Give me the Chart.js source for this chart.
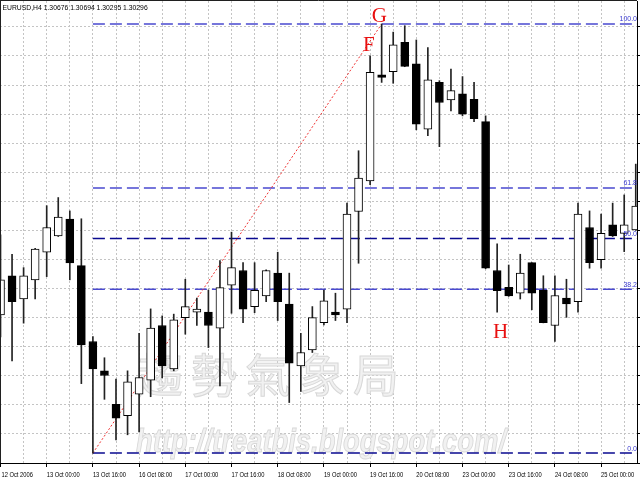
<!DOCTYPE html>
<html lang="en">
<head>
<meta charset="UTF-8">
<title>EURUSD,H4</title>
<script src="https://cdn.jsdelivr.net/npm/chart.js"></script>
<style>
  html, body { margin: 0; padding: 0; background: #fff; }
  canvas { display: block; }
</style>
</head>
<body>
<canvas id="fxChart" width="640" height="480"></canvas>
<script>
// EURUSD H4 bars, 12 Oct 2006 08:00 .. 25 Oct 2006 12:00 (bar index 0..55)
var openP = [1.25309, 1.25444, 1.25364, 1.25430, 1.25525, 1.25581, 1.25639, 1.25479,
             1.25218, 1.25117, 1.25002, 1.24963, 1.25037, 1.25085, 1.25273, 1.25124,
             1.25300, 1.25319, 1.25319, 1.25264, 1.25412, 1.25462, 1.25338, 1.25375,
             1.25453, 1.25347, 1.25134, 1.25189, 1.25283, 1.25319, 1.25329, 1.25665,
             1.25770, 1.26135, 1.26146, 1.26247, 1.26173, 1.25948, 1.26109, 1.26049,
             1.26070, 1.26051, 1.25974, 1.25462, 1.25404, 1.25384, 1.25489, 1.25395,
             1.25273, 1.25367, 1.25355, 1.25610, 1.25499, 1.25619, 1.25590, 1.25602];
var highP = [1.25585, 1.25518, 1.25472, 1.25538, 1.25685, 1.25713, 1.25667, 1.25640,
             1.25235, 1.25162, 1.25089, 1.25117, 1.25246, 1.25330, 1.25306, 1.25312,
             1.25432, 1.25367, 1.25395, 1.25496, 1.25594, 1.25489, 1.25489, 1.25464,
             1.25525, 1.25453, 1.25246, 1.25338, 1.25395, 1.25384, 1.25694, 1.25874,
             1.26200, 1.26310, 1.26282, 1.26304, 1.26255, 1.26229, 1.26115, 1.26155,
             1.26129, 1.26109, 1.25994, 1.25554, 1.25481, 1.25518, 1.25489, 1.25444,
             1.25444, 1.25432, 1.25694, 1.25667, 1.25656, 1.25694, 1.25722, 1.25828];
var lowP = [1.25234, 1.25151, 1.25281, 1.25364, 1.25441, 1.25579, 1.25430, 1.25073,
            1.24834, 1.25019, 1.24879, 1.24897, 1.24907, 1.25028, 1.25093, 1.25117,
            1.25243, 1.25273, 1.25197, 1.25065, 1.25315, 1.25283, 1.25317, 1.25355,
            1.25290, 1.25008, 1.25046, 1.25180, 1.25275, 1.25290, 1.25283, 1.25487,
            1.25757, 1.26109, 1.26106, 1.26163, 1.25946, 1.25926, 1.25888, 1.26011,
            1.25994, 1.25974, 1.25468, 1.25319, 1.25373, 1.25364, 1.25327, 1.25282,
            1.25218, 1.25301, 1.25319, 1.25470, 1.25470, 1.25579, 1.25527, 1.25600];
var closeP = [1.25430, 1.25355, 1.25444, 1.25536, 1.25610, 1.25646, 1.25488, 1.25206,
              1.25124, 1.25101, 1.24954, 1.25079, 1.25094, 1.25264, 1.25134, 1.25292,
              1.25338, 1.25329, 1.25273, 1.25403, 1.25472, 1.25329, 1.25394, 1.25462,
              1.25355, 1.25143, 1.25180, 1.25300, 1.25358, 1.25309, 1.25656, 1.25780,
              1.26144, 1.26126, 1.26238, 1.26164, 1.25965, 1.26118, 1.26040, 1.26081,
              1.26000, 1.25984, 1.25470, 1.25393, 1.25375, 1.25453, 1.25384, 1.25283,
              1.25376, 1.25347, 1.25656, 1.25489, 1.25590, 1.25581, 1.25619, 1.25684];

// time axis labels and the bar they sit on
var tickBars = [0, 4, 8, 12, 16, 20, 24, 28, 32, 36, 40, 44, 48, 52];
var tickLabels = ['12 Oct 2006', '13 Oct 00:00', '13 Oct 16:00', '16 Oct 08:00', '17 Oct 00:00',
                  '17 Oct 16:00', '18 Oct 08:00', '19 Oct 00:00', '19 Oct 16:00', '20 Oct 08:00',
                  '23 Oct 00:00', '23 Oct 16:00', '24 Oct 08:00', '25 Oct 00:00'];

// fibonacci retracement drawn from the swing low bar to the swing high bar
var fibLevels = [0, 38.2, 50, 61.8, 100];
var fibNames = ['0.0', '38.2', '50.0', '61.8', '100.0'];
var swingLowBar = 8;
var swingHighBar = 33;

var headerText = 'EURUSD,H4 1.30676 1.30694 1.30295 1.30296';
var markText = ['F', 'G', 'H'];
var markBar = [31.9, 32.8, 43.3];
var markPrice = [1.26236, 1.26336, 1.25249];
var watermarkCn = '趨勢氣象局';
var watermarkUrl = 'http://treatbis.blogspot.com/';

var fibLow = lowP[swingLowBar];
var fibHigh = highP[swingHighBar];

var bodyData = [], wickData = [];
for (var i = 0; i < openP.length; i++) {
    bodyData.push({ x: i, y: [openP[i], closeP[i]] });
    wickData.push({ x: i, y: [lowP[i], highP[i]] });
}

var datasets = [
    {
        type: 'bar', label: 'body', data: bodyData, grouped: false, barThickness: 8,
        backgroundColor: function (c) { return closeP[c.dataIndex] >= openP[c.dataIndex] ? '#ffffff' : '#000000'; },
        borderColor: '#000000', borderWidth: 1, borderSkipped: false
    },
    {
        type: 'bar', label: 'wick', data: wickData, grouped: false, barThickness: 1,
        backgroundColor: '#222222', borderWidth: 0
    },
    {
        type: 'line', label: 'trend', data: [{ x: swingLowBar, y: fibLow }, { x: swingHighBar, y: fibHigh }],
        borderColor: '#ee3333', borderWidth: 1, borderDash: [2, 2], pointRadius: 0
    }
];
fibLevels.forEach(function (lv, j) {
    var p = fibLow + (fibHigh - fibLow) * lv / 100;
    datasets.push({
        type: 'line', label: fibNames[j], data: [{ x: swingLowBar, y: p }, { x: 56, y: p }],
        borderColor: (lv === 0 || lv === 50) ? '#0a0a90' : '#4a4ad0',
        borderWidth: 1.5, borderDash: [12, 5], pointRadius: 0
    });
});

var decor = {
    id: 'decor',
    beforeDatasetsDraw: function (chart) {
        var ctx = chart.ctx, a = chart.chartArea;
        ctx.save();
        ctx.beginPath();
        ctx.rect(a.left, a.top, a.right - a.left, a.bottom - a.top);
        ctx.clip();
        // faint watermark
        ctx.font = '46px "Noto Sans CJK TC"';
        ctx.textAlign = 'center';
        ctx.textBaseline = 'middle';
        ctx.fillStyle = '#f1f1f1';
        ctx.strokeStyle = '#d8d8d8';
        ctx.lineWidth = 1;
        for (var i = 0; i < watermarkCn.length; i++) {
            var cx = 160 + i * 54;
            ctx.fillText(watermarkCn[i], cx, 375);
            ctx.strokeText(watermarkCn[i], cx, 375);
        }
        ctx.font = 'italic bold 34px "Liberation Sans", Arial, sans-serif';
        ctx.textAlign = 'left';
        ctx.textBaseline = 'alphabetic';
        var w = ctx.measureText(watermarkUrl).width;
        ctx.translate(136, 452);
        ctx.scale(370 / w, 1);
        ctx.fillText(watermarkUrl, 0, 0);
        ctx.strokeText(watermarkUrl, 0, 0);
        ctx.restore();
    },
    afterDraw: function (chart) {
        var ctx = chart.ctx, a = chart.chartArea;
        var xs = chart.scales.x, ys = chart.scales.y;
        ctx.save();
        // frame top and left
        ctx.strokeStyle = '#202020';
        ctx.lineWidth = 1;
        ctx.beginPath();
        ctx.moveTo(0, 0.5); ctx.lineTo(a.right, 0.5);
        ctx.moveTo(0.5, 0); ctx.lineTo(0.5, a.bottom);
        ctx.stroke();

        // symbol header
        ctx.fillStyle = '#000';
        ctx.font = '8px "Liberation Sans", Arial, sans-serif';
        ctx.textBaseline = 'alphabetic';
        ctx.textAlign = 'left';
        ctx.save();
        ctx.translate(2.5, 10);
        ctx.scale(0.85, 1);
        ctx.fillText(headerText, 0, 0);
        ctx.restore();

        // time labels
        tickBars.forEach(function (b, j) {
            var x = xs.getPixelForValue(b);
            ctx.save();
            ctx.translate(Math.max(x, 1.5), 477);
            ctx.scale(0.72, 1);
            ctx.fillText(tickLabels[j], 0, 0);
            ctx.restore();
        });

        // fibo level captions
        ctx.font = '7px "Liberation Sans", Arial, sans-serif';
        ctx.textAlign = 'right';
        ctx.fillStyle = '#3a3ad0';
        fibLevels.forEach(function (lv, j) {
            var p = fibLow + (fibHigh - fibLow) * lv / 100;
            ctx.fillText(fibNames[j], a.right, ys.getPixelForValue(p) - 2.5);
        });

        // F G H marks
        ctx.font = '21px "Liberation Serif", "Times New Roman", serif';
        ctx.textAlign = 'center';
        ctx.textBaseline = 'middle';
        ctx.fillStyle = '#e81010';
        markText.forEach(function (t, j) {
            ctx.fillText(t, xs.getPixelForValue(markBar[j]), ys.getPixelForValue(markPrice[j]));
        });
        ctx.restore();
    }
};

new Chart(document.getElementById('fxChart').getContext('2d'), {
    type: 'bar',
    data: { datasets: datasets },
    options: {
        responsive: false,
        animation: false,
        events: [],
        devicePixelRatio: 1,
        layout: { padding: { top: 1, left: 0, right: 0, bottom: 0 } },
        plugins: { legend: { display: false }, tooltip: { enabled: false } },
        scales: {
            x: {
                type: 'linear', offset: false,
                min: -0.0433, max: 55.108,
                afterBuildTicks: function (s) {
                    var t = [];
                    for (var v = 0; v <= 54; v += 2) t.push({ value: v });
                    s.ticks = t;
                },
                afterFit: function (s) { s.height = 17; },
                ticks: { display: false },
                grid: {
                    offset: false, color: '#c4c4c4', lineWidth: 1, tickLength: 4,
                    tickColor: function (c) { return c.tick && tickBars.indexOf(c.tick.value) >= 0 ? '#000' : 'rgba(0,0,0,0)'; }
                },
                border: { display: true, color: '#000', dash: [2, 2] }
            },
            y: {
                type: 'linear', position: 'right', beginAtZero: false,
                min: 1.2480, max: 1.26389,
                afterBuildTicks: function (s) {
                    var t = [];
                    for (var k = 0; k <= 15; k++) t.push({ value: 1.2480 + k * 0.001 });
                    s.ticks = t;
                },
                afterFit: function (s) { s.width = 3; },
                ticks: { display: false },
                grid: { color: '#c4c4c4', lineWidth: 1, tickLength: 3, tickColor: '#000' },
                border: { display: true, color: '#000', dash: [2, 2] }
            }
        }
    },
    plugins: [decor]
});
</script>
</body>
</html>
